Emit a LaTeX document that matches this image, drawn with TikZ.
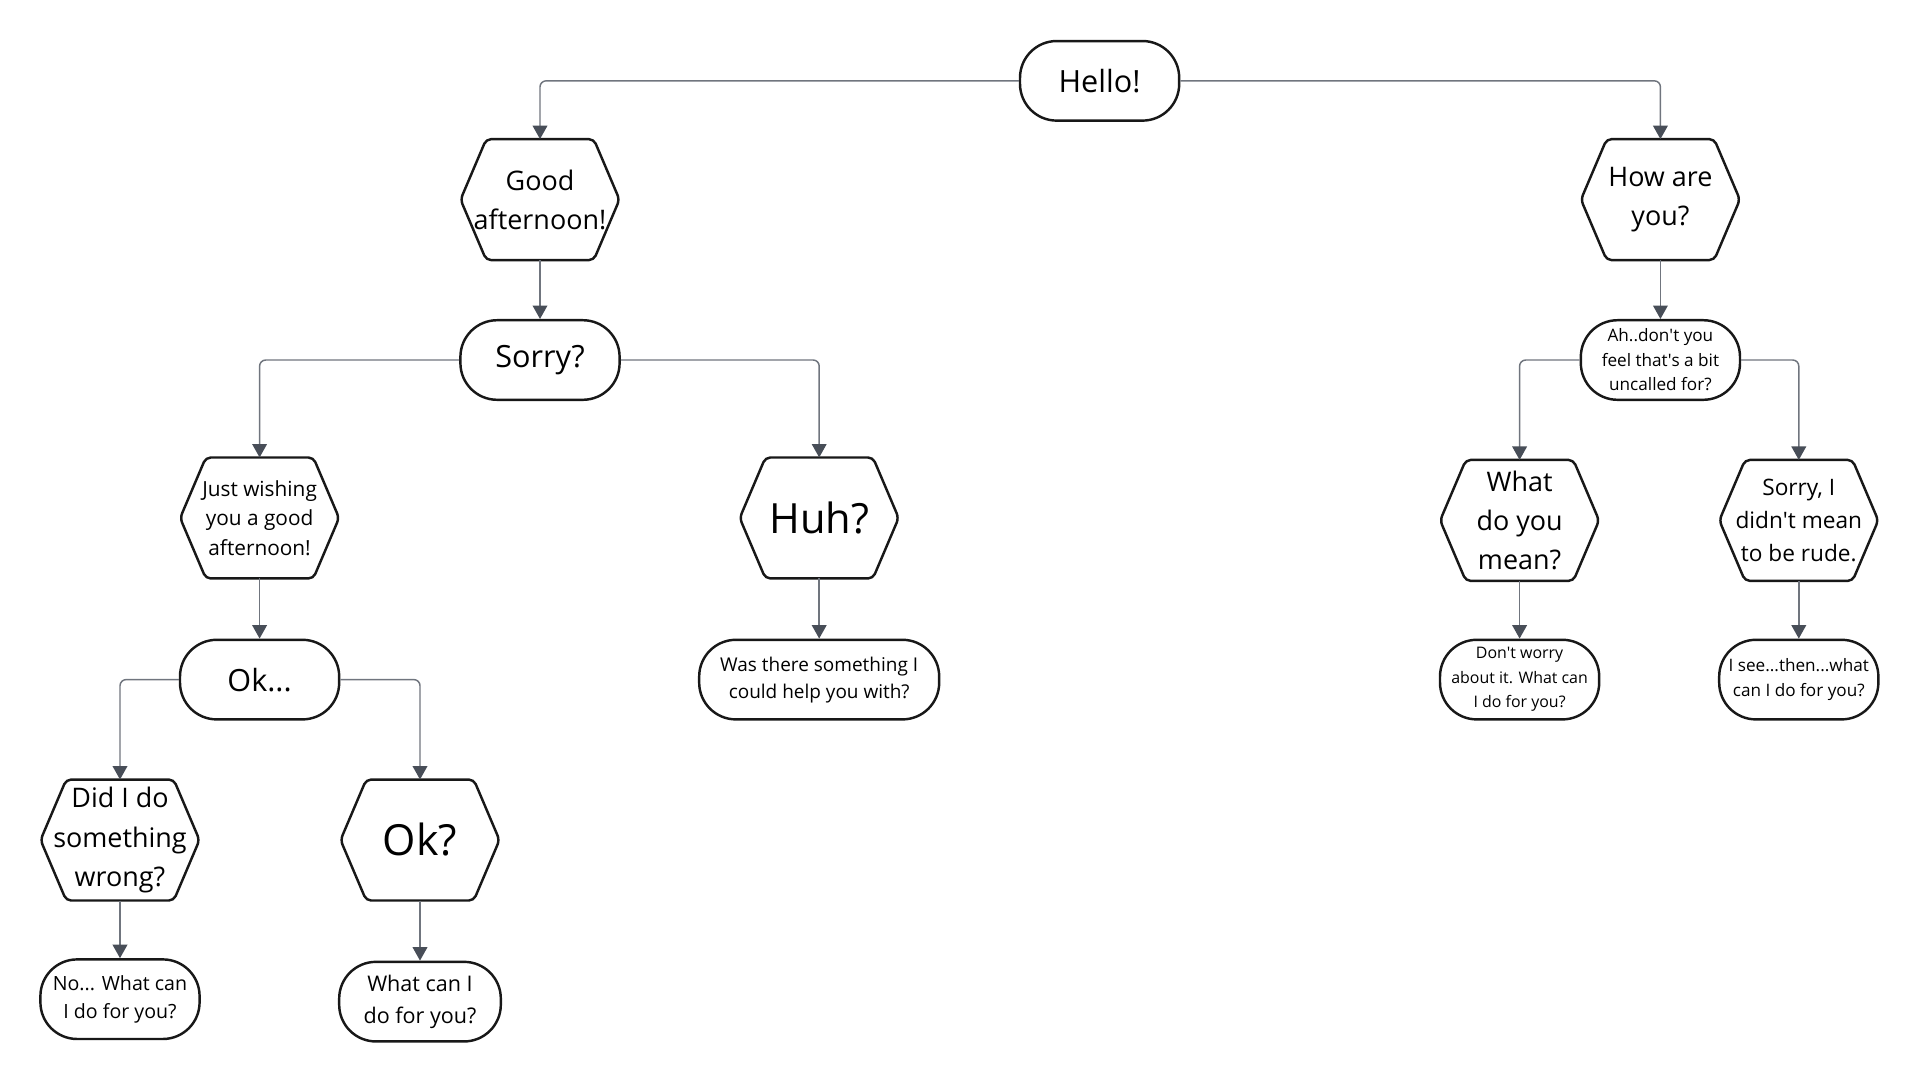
\documentclass[tikz,border=0pt]{standalone}
\usepackage{fontspec}
\setmainfont{Open Sans}
\usepackage{xcolor}
\definecolor{linkgray}{RGB}{112,117,126}
\definecolor{tipgray}{RGB}{72,78,88}
\definecolor{edgeblack}{RGB}{24,24,24}
\usepackage{tikz}
\usetikzlibrary{shapes,arrows.meta,calc,positioning}
\newcommand{\txtsize}[2]{\fontsize{#1}{#2}\selectfont}
\tikzset{
  talk/.style={draw=edgeblack,line width=1pt,rounded corners=15pt,minimum width=65pt,minimum height=32.5pt,align=center,inner sep=1pt,fill=white},
  ask/.style={rectangle,minimum width=64.5pt,minimum height=49pt,align=center,inner sep=0pt},
  hexline/.style={draw=edgeblack,line width=1pt,rounded corners=2pt},
  link/.style={draw=linkgray,line width=0.6pt,rounded corners=2.5pt,-{Triangle[length=5.5pt,width=6pt,color=tipgray]}}
}
\begin{document}
\begin{tikzpicture}[x=0.5pt,y=-0.5pt]
    \useasboundingbox (0,0) rectangle (1568,884.5);
    \node[talk,font=\txtsize{12.5}{16}] (hello) at (898,66) {Hello!};
    \node[ask,font=\txtsize{11}{16}] (good) at (441,163) {Good\\afternoon!};
    \node[ask,font=\txtsize{11}{16}] (howare) at (1356,163) {How are\\you?};
    \node[talk,font=\txtsize{12.5}{16}] (sorry) at (441,294) {Sorry?};
    \node[talk,font=\txtsize{7}{10}] (uncalled) at (1356,294) {Ah..don\textquotesingle t you\\feel that\textquotesingle s a bit\\uncalled for?};
    \node[ask,font=\txtsize{8.5}{12}] (wishing) at (212,423) {Just wishing\\you a good\\afternoon!};
    \node[ask,font=\txtsize{17}{20}] (huh) at (669,423) {Huh?};
    \node[ask,font=\txtsize{11}{16}] (whatmean) at (1241,425) {What\\do you\\mean?};
    \node[ask,font=\txtsize{9.25}{13.5}] (rude) at (1469,425) {Sorry, I\\didn\textquotesingle t mean\\to be rude.};
    \node[talk,font=\txtsize{12.5}{16}] (okdots) at (212,555) {Ok...};
    \node[talk,minimum width=98pt,font=\txtsize{7.75}{11}] (helpwith) at (669,555) {Was there something I\\could help you with?};
    \node[talk,font=\txtsize{6.5}{10}] (dontworry) at (1241,555) {Don\textquotesingle t worry\\about it. What can\\I do for you?};
    \node[talk,font=\txtsize{7}{10}] (isee) at (1469,555) {I see...then...what\\can I do for you?};
    \node[ask,font=\txtsize{11}{16}] (didI) at (98,686) {Did I do\\something\\wrong?};
    \node[ask,font=\txtsize{17.5}{20}] (okq) at (343,686) {Ok?};
    \node[talk,font=\txtsize{8}{11.5}] (nowhat) at (98,816) {No... What can\\I do for you?};
    \node[talk,minimum width=66pt,font=\txtsize{8.8}{13}] (whatcan) at (343,818) {What can I\\do for you?};
    \foreach \n in {good,howare,wishing,huh,whatmean,rude,didI,okq}
      \draw[hexline] (\n.west) -- ([xshift=10.5pt]\n.north west) -- ([xshift=-10.5pt]\n.north east)
        -- (\n.east) -- ([xshift=-10.5pt]\n.south east) -- ([xshift=10.5pt]\n.south west) -- cycle;
    \draw[link] (hello.west) -| (good.north);
    \draw[link] (hello.east) -| (howare.north);
    \draw[link] (good.south) -- (sorry.north);
    \draw[link] (sorry.west) -| (wishing.north);
    \draw[link] (sorry.east) -| (huh.north);
    \draw[link] (wishing.south) -- (okdots.north);
    \draw[link] (huh.south) -- (helpwith.north);
    \draw[link] (okdots.west) -| (didI.north);
    \draw[link] (okdots.east) -| (okq.north);
    \draw[link] (didI.south) -- (nowhat.north);
    \draw[link] (okq.south) -- (whatcan.north);
    \draw[link] (howare.south) -- (uncalled.north);
    \draw[link] (uncalled.west) -| (whatmean.north);
    \draw[link] (uncalled.east) -| (rude.north);
    \draw[link] (whatmean.south) -- (dontworry.north);
    \draw[link] (rude.south) -- (isee.north);
\end{tikzpicture}
\end{document}
